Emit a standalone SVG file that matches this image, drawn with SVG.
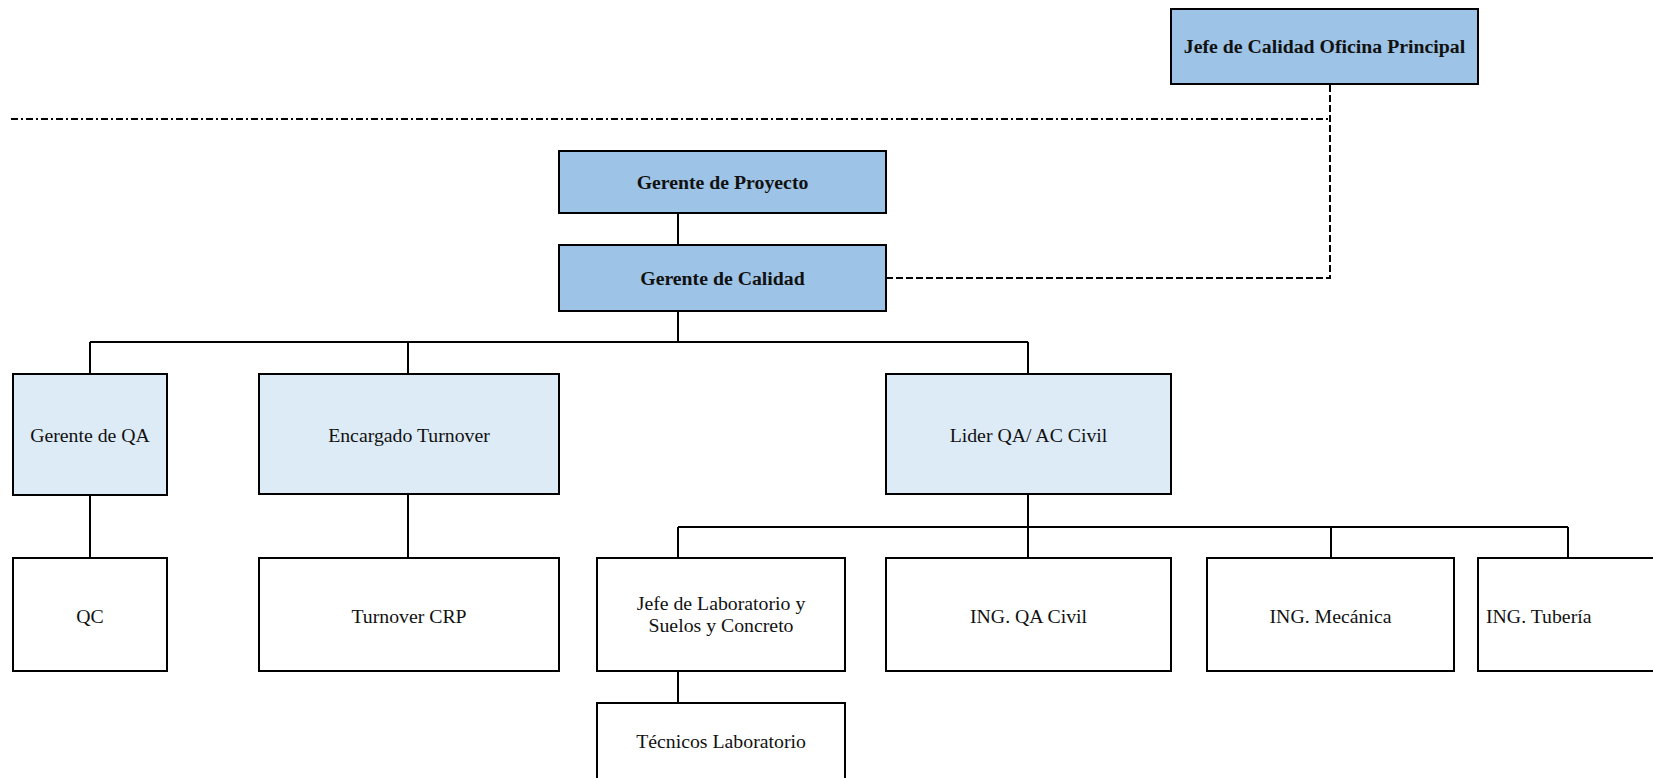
<svg xmlns="http://www.w3.org/2000/svg" width="1653" height="778" viewBox="0 0 1653 778">
<style>
rect{stroke:#000;stroke-width:2}
.dk{fill:#9DC3E6}
.lt{fill:#DDEBF7}
.wh{fill:#fff}
text{font-family:"Liberation Serif","Times New Roman",serif;font-size:19.8px;fill:#111}
.b{font-weight:bold}
.c{text-anchor:middle}
#connectors path{fill:none;stroke:#000;stroke-width:2}
#connectors .dd{stroke-dasharray:7 3 2 3}
#connectors .ds{stroke-dasharray:7 3}
</style>
<rect x="0" y="0" width="1653" height="778" fill="#fff" style="stroke:none"/>
<g id="connectors">
<path class="dd" d="M11 119H1330"/>
<path class="ds" d="M886 278H1330V84"/>
<path d="M678 213V245"/>
<path d="M678 311V342M90 342H1028M90 342V374M408 342V374M1028 342V374"/>
<path d="M90 495V558M408 494V558"/>
<path d="M1028 494V527M678 527H1568M678 527V558M1028 527V558M1331 527V558M1568 527V558"/>
<path d="M678 671V703"/>
</g>
<g id="jefe-calidad-oficina"><rect class="dk" x="1171" y="9" width="307" height="75"/><text class="b c" x="1324.5" y="53">Jefe de Calidad Oficina Principal</text></g>
<g id="gerente-proyecto"><rect class="dk" x="559" y="151" width="327" height="62"/><text class="b c" x="722.5" y="189">Gerente de Proyecto</text></g>
<g id="gerente-calidad"><rect class="dk" x="559" y="245" width="327" height="66"/><text class="b c" x="722.5" y="285">Gerente de Calidad</text></g>
<g id="gerente-qa"><rect class="lt" x="13" y="374" width="154" height="121"/><text class="c" x="90" y="442">Gerente de QA</text></g>
<g id="encargado-turnover"><rect class="lt" x="259" y="374" width="300" height="120"/><text class="c" x="409" y="442">Encargado Turnover</text></g>
<g id="lider-qa"><rect class="lt" x="886" y="374" width="285" height="120"/><text class="c" x="1028.5" y="442">Lider QA/ AC Civil</text></g>
<g id="qc"><rect class="wh" x="13" y="558" width="154" height="113"/><text class="c" x="90" y="623">QC</text></g>
<g id="turnover-crp"><rect class="wh" x="259" y="558" width="300" height="113"/><text class="c" x="409" y="623">Turnover CRP</text></g>
<g id="jefe-laboratorio"><rect class="wh" x="597" y="558" width="248" height="113"/><text class="c" x="721" y="610">Jefe de Laboratorio y</text><text class="c" x="721" y="632">Suelos y Concreto</text></g>
<g id="ing-qa-civil"><rect class="wh" x="886" y="558" width="285" height="113"/><text class="c" x="1028.5" y="623">ING. QA Civil</text></g>
<g id="ing-mecanica"><rect class="wh" x="1207" y="558" width="247" height="113"/><text class="c" x="1330.5" y="623">ING. Mecánica</text></g>
<g id="ing-tuberia"><rect class="wh" x="1478" y="558" width="200" height="113"/><text x="1486" y="623">ING. Tubería</text></g>
<g id="tecnicos-laboratorio"><rect class="wh" x="597" y="703" width="248" height="100"/><text class="c" x="721" y="748">Técnicos Laboratorio</text></g>
</svg>
